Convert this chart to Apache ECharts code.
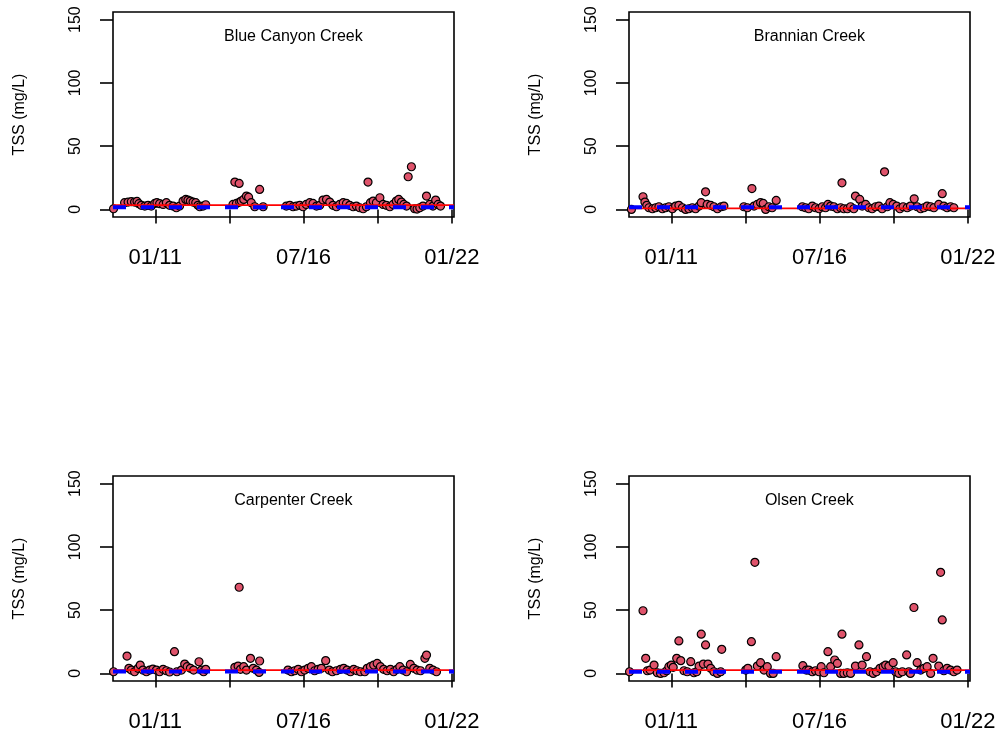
<!DOCTYPE html>
<html><head><meta charset="utf-8">
<script src="https://cdn.jsdelivr.net/npm/echarts@6/dist/echarts.min.js"></script>
<style>html,body{margin:0;padding:0;background:#fff}#c{width:1002px;height:740px}</style>
</head><body><div id="c"></div>
<script>
// ---- data: [decimal year, TSS mg/L] ----
const creekNames = ['Blue Canyon Creek', 'Brannian Creek', 'Carpenter Creek', 'Olsen Creek'];

const blueCanyon = [[2009.45,0.5],[2009.86,5.3],[2009.99,5.8],[2010.11,6.1],[2010.23,5.8],[2010.32,6.3],[2010.39,4.5],[2010.48,3.2],[2010.61,2.6],[2010.73,3.2],[2010.85,2.6],[2010.98,4.7],[2011.06,5.3],[2011.16,4.5],[2011.29,3.9],[2011.41,5.3],[2011.53,3.2],[2011.66,2.6],[2011.78,1.3],[2011.90,2.6],[2012.03,6.6],[2012.13,7.9],[2012.21,7.4],[2012.30,6.6],[2012.40,5.8],[2012.50,5.3],[2012.58,3.2],[2012.65,2.1],[2012.77,2.6],[2012.87,3.7],
[2013.88,3.9],[2013.95,21.6],[2014.01,4.7],[2014.11,20.5],[2014.13,5.8],[2014.19,6.6],[2014.28,7.9],[2014.38,10.5],[2014.46,9.7],[2014.56,5.3],[2014.69,2.1],[2014.87,15.8],[2015.00,2.1],
[2015.86,2.6],[2015.99,3.2],[2016.11,2.1],[2016.23,2.6],[2016.36,3.2],[2016.48,2.1],[2016.60,3.9],[2016.73,5.3],[2016.85,4.7],[2016.98,2.6],[2017.10,3.2],[2017.22,7.4],[2017.35,7.9],[2017.47,5.8],[2017.59,3.2],[2017.72,2.1],[2017.84,3.9],[2017.97,5.3],[2018.09,4.7],[2018.21,3.2],[2018.34,2.1],[2018.46,2.6],[2018.58,1.3],[2018.71,0.5],[2018.83,2.1],[2018.89,21.6],[2018.98,5.3],[2019.08,6.6],[2019.20,5.3],[2019.33,9.2],[2019.45,3.9],[2019.57,3.2],[2019.70,2.1],[2019.82,3.9],[2019.94,6.6],[2020.03,7.9],[2020.13,5.8],[2020.22,3.9],[2020.32,2.6],[2020.38,25.8],[2020.50,33.7],[2020.62,0.5],[2020.71,0.3],[2020.81,1.3],[2020.93,2.6],[2021.06,10.5],[2021.18,3.9],[2021.30,2.6],[2021.40,7.4],[2021.49,3.9],[2021.58,2.6]];

const brannian = [[2009.52,0],[2009.95,10.0],[2010.02,5.8],[2010.09,3.2],[2010.17,1.3],[2010.30,0.5],[2010.42,1.3],[2010.54,2.1],[2010.67,0.5],[2010.79,1.3],[2010.91,2.1],[2011.04,0.5],[2011.16,2.6],[2011.28,3.2],[2011.41,1.3],[2011.53,0],[2011.65,0.5],[2011.78,1.3],[2011.90,0.5],[2012.03,2.6],[2012.11,5.3],[2012.27,13.9],[2012.33,3.9],[2012.46,3.2],[2012.58,2.1],[2012.71,0.5],[2012.85,2.1],[2012.95,2.6],
[2013.69,2.1],[2013.82,1.3],[2013.99,16.5],[2014.07,2.6],[2014.19,3.9],[2014.31,5.3],[2014.41,4.7],[2014.50,0],[2014.62,2.1],[2014.74,1.3],[2014.89,7.1],
[2015.86,2.1],[2015.98,1.3],[2016.10,0.5],[2016.23,2.6],[2016.35,1.3],[2016.48,0.5],[2016.60,2.1],[2016.72,1.3],[2016.81,3.9],[2016.91,2.6],[2017.03,2.1],[2017.16,0.5],[2017.28,1.3],[2017.33,21.0],[2017.40,0.5],[2017.53,0.5],[2017.65,2.1],[2017.77,0.5],[2017.83,10.5],[2017.99,7.9],[2018.08,2.6],[2018.21,3.9],[2018.33,1.3],[2018.45,0.5],[2018.58,2.1],[2018.70,2.6],[2018.82,0.5],[2018.91,29.7],[2019.01,2.1],[2019.11,5.3],[2019.23,3.9],[2019.36,2.6],[2019.48,0.5],[2019.60,2.1],[2019.75,1.3],[2019.87,2.6],[2020.01,8.4],[2020.12,2.1],[2020.25,0.5],[2020.37,1.3],[2020.49,2.6],[2020.62,2.1],[2020.74,1.3],[2020.92,3.9],[2021.05,12.4],[2021.11,2.6],[2021.23,1.3],[2021.36,2.1],[2021.48,1.3]];

const carpenter = [[2009.45,1.3],[2009.95,13.7],[2010.02,4.0],[2010.11,2.6],[2010.23,1.3],[2010.36,4.0],[2010.44,6.6],[2010.54,2.6],[2010.67,1.3],[2010.79,2.6],[2010.91,3.4],[2011.04,2.6],[2011.16,1.3],[2011.29,3.2],[2011.41,2.1],[2011.53,1.1],[2011.71,17.2],[2011.80,1.3],[2011.97,2.6],[2012.09,7.4],[2012.18,5.3],[2012.30,4.0],[2012.42,2.6],[2012.62,9.2],[2012.71,2.6],[2012.79,1.3],[2012.87,3.2],
[2013.95,4.8],[2014.07,5.8],[2014.11,68.1],[2014.16,3.2],[2014.28,5.3],[2014.38,2.6],[2014.53,11.9],[2014.63,4.0],[2014.75,2.6],[2014.85,0.8],[2014.87,9.8],
[2015.92,2.6],[2016.05,1.3],[2016.17,2.1],[2016.30,3.2],[2016.42,1.3],[2016.54,2.6],[2016.67,4.0],[2016.79,5.3],[2016.91,2.1],[2017.04,3.2],[2017.16,4.0],[2017.32,10.1],[2017.45,2.6],[2017.57,1.3],[2017.72,2.1],[2017.87,3.2],[2017.99,4.0],[2018.11,2.6],[2018.24,1.3],[2018.36,3.2],[2018.48,2.1],[2018.61,1.3],[2018.77,1.3],[2018.86,4.0],[2018.98,5.3],[2019.10,6.6],[2019.23,7.9],[2019.35,5.3],[2019.47,3.2],[2019.60,2.1],[2019.72,3.2],[2019.84,1.3],[2019.97,3.2],[2020.07,5.3],[2020.19,2.6],[2020.32,1.3],[2020.46,7.1],[2020.59,4.0],[2020.71,2.6],[2020.84,2.1],[2021.00,11.9],[2021.06,14.5],[2021.18,4.0],[2021.30,2.6],[2021.43,1.3]];

const olsen = [[2009.45,1.3],[2009.95,49.5],[2010.05,11.9],[2010.11,2.1],[2010.21,2.6],[2010.36,6.6],[2010.48,0.5],[2010.60,0],[2010.73,0.5],[2010.83,2.1],[2010.91,5.3],[2011.00,6.6],[2011.07,4.8],[2011.20,11.9],[2011.28,25.7],[2011.35,10.1],[2011.47,2.1],[2011.59,1.3],[2011.72,9.3],[2011.84,0.5],[2011.94,1.3],[2012.03,5.8],[2012.11,31.0],[2012.19,7.4],[2012.27,22.5],[2012.36,7.4],[2012.46,4.0],[2012.58,1.3],[2012.71,0],[2012.83,1.3],[2012.87,19.0],
[2013.76,2.6],[2013.84,4.0],[2013.97,25.1],[2014.10,87.8],[2014.19,5.8],[2014.31,8.5],[2014.44,2.6],[2014.56,5.3],[2014.68,0],[2014.78,0],[2014.89,13.2],
[2015.88,6.1],[2016.01,2.6],[2016.10,2.6],[2016.23,1.3],[2016.35,2.1],[2016.48,1.3],[2016.56,5.3],[2016.66,0.5],[2016.81,17.2],[2016.91,5.3],[2017.06,10.6],[2017.16,7.9],[2017.28,0],[2017.33,31.0],[2017.40,0],[2017.53,0.5],[2017.65,0],[2017.83,5.8],[2017.96,22.5],[2018.08,6.6],[2018.24,13.2],[2018.37,1.3],[2018.49,0],[2018.61,1.3],[2018.74,4.0],[2018.86,5.3],[2018.95,6.6],[2019.07,5.8],[2019.23,8.5],[2019.32,1.3],[2019.44,0],[2019.57,1.3],[2019.73,14.6],[2019.81,1.3],[2019.87,0],[2020.00,52.1],[2020.12,8.5],[2020.25,2.6],[2020.37,4.0],[2020.49,5.3],[2020.62,0],[2020.71,11.9],[2020.92,5.8],[2020.99,79.9],[2021.05,42.3],[2021.11,2.1],[2021.23,4.0],[2021.36,2.6],[2021.48,1.3],[2021.60,2.6]];

const redLineTSS  = [3.4, 0.8, 2.6, 2.6];
const blueLineTSS = [1.8, 1.8, 1.6, 1.3];

const yTickValues = [0, 50, 100, 150];
const xTickYears  = [2011, 2013.75, 2016.5, 2019.25, 2022];
const xLabelYears = [2011, 2016.5, 2022];
const xLabelText  = ['01/11', '07/16', '01/22'];
const titleYear   = 2016.12;

// ---- layout / style ----
const creekData = [blueCanyon, brannian, carpenter, olsen];
const X_MIN = 2009.43, X_MAX = 2022.08, Y_MIN = -6, Y_MAX = 156;
const panels = [{left:113, top:12}, {left:629, top:12}, {left:113, top:476}, {left:629, top:476}];
const W = 341, H = 205;
const FONT = 'Liberation Sans, Arial, Helvetica, sans-serif';

const grid = [], xAxis = [], yAxis = [], series = [], graphic = [];
panels.forEach((p, i) => {
  grid.push({left: p.left, top: p.top, width: W, height: H, show: true,
    borderColor: '#000', borderWidth: 1.6, backgroundColor: 'transparent', containLabel: false});
  xAxis.push({type: 'value', gridIndex: i, min: X_MIN, max: X_MAX,
    axisLine: {show: false}, splitLine: {show: false},
    axisTick: {show: true, customValues: xTickYears, length: 14, inside: false,
      lineStyle: {color: '#000', width: 1.6}},
    axisLabel: {show: true, customValues: xLabelYears, margin: 30, color: '#000',
      fontSize: 22, fontFamily: FONT,
      formatter: v => { const k = xLabelYears.findIndex(y => Math.abs(y - v) < 1e-6); return k >= 0 ? xLabelText[k] : ''; }}
  });
  yAxis.push({type: 'value', gridIndex: i, min: Y_MIN, max: Y_MAX,
    name: 'TSS (mg/L)', nameLocation: 'middle', nameRotate: 90, nameGap: 85,
    nameTextStyle: {color: '#000', fontSize: 16, fontFamily: FONT},
    axisLine: {show: false}, splitLine: {show: false},
    axisTick: {show: true, customValues: yTickValues, length: 13, lineStyle: {color: '#000', width: 1.6}},
    axisLabel: {show: true, customValues: yTickValues, rotate: 90, margin: 29, color: '#000',
      fontSize: 16, fontFamily: FONT}
  });
  series.push({type: 'scatter', xAxisIndex: i, yAxisIndex: i, data: creekData[i],
    symbol: 'circle', symbolSize: 8, z: 2, clip: true,
    itemStyle: {color: '#DF536B', borderColor: '#000', borderWidth: 1.2, opacity: 1},
    emphasis: {disabled: true}, animation: false});
  series.push({type: 'line', xAxisIndex: i, yAxisIndex: i,
    data: [[X_MIN, redLineTSS[i]], [X_MAX, redLineTSS[i]]],
    symbol: 'none', z: 3, lineStyle: {color: '#FF0000', width: 1.6}, animation: false, silent: true});
  series.push({type: 'line', xAxisIndex: i, yAxisIndex: i,
    data: [[X_MIN, blueLineTSS[i]], [X_MAX, blueLineTSS[i]]],
    symbol: 'none', z: 4, lineStyle: {color: '#0000FF', width: 4, type: [13, 15]}, animation: false, silent: true});
});

const chart = echarts.init(document.getElementById('c'), null, {renderer: 'canvas'});
chart.setOption({
  backgroundColor: '#fff',
  animation: false,
  grid, xAxis, yAxis, series
});
// panel titles placed at a data position through the library's converter
const gfx = panels.map((p, i) => {
  const pt = chart.convertToPixel({gridIndex: i}, [titleYear, 145]);
  return {type: 'text', x: pt[0], y: pt[1] + 11,
    style: {text: creekNames[i], fill: '#000', fontSize: 16, fontFamily: FONT,
      textAlign: 'center', textVerticalAlign: 'middle'}};
});
chart.setOption({graphic: gfx});
</script>
</body></html>
